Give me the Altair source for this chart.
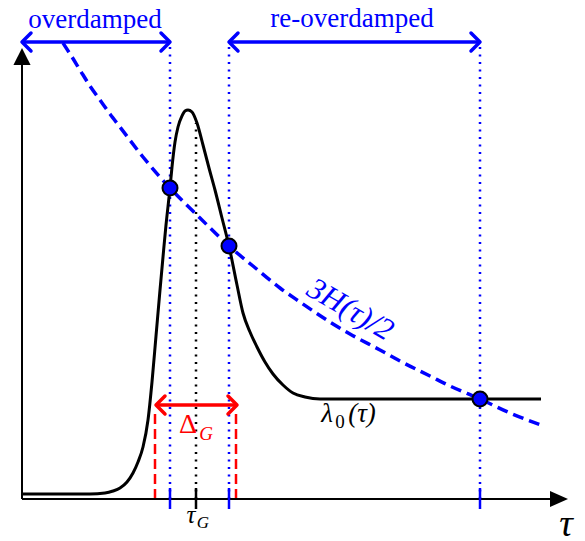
import altair as alt
import pandas as pd

# ---- schematic data (horizontal: tau, vertical: value; arbitrary units) ----
lam_tau = [0, 68, 83, 91, 98, 105, 111, 116, 121, 126, 130, 134, 138, 141, 144, 148,
           150, 153, 156, 160, 163, 166, 170, 175, 181, 187, 193, 200, 207, 215, 221,
           228, 235, 243, 251, 261, 271, 283, 298, 519]
lam_val = [5, 5, 6, 8, 11, 17, 26, 37, 52, 79, 117, 163, 209, 242, 274, 311,
           332, 357, 372, 383, 388, 389, 387, 376, 354, 331, 309, 281, 253, 214, 186,
           167, 152, 137, 125, 114, 106, 102, 100, 100]

h_tau = [41, 50, 58, 68, 78, 88, 98, 121, 148, 178, 207, 231, 258, 278, 308, 328,
         358, 378, 408, 428, 458, 488, 519]
h_val = [456, 442, 429, 413, 399, 385, 372, 342, 311, 281, 253, 233, 211, 197, 177, 165,
         149, 138, 123, 113, 100, 86, 74]

cross_tau = [148, 207, 458]
cross_val = [311, 253, 100]

tauG = 174
tauG_top = 376
delta_lo, delta_hi = 133, 214
delta_arrow_val = 94
delta_line_top = 86

top_arrow_val = 457
over_lo, over_hi = 0, 148
reover_lo, reover_hi = 207, 458

yaxis_top = 434
xaxis_end = 528

BLUE = "#0000ff"
RED = "#ff0000"
BLACK = "#000000"
SERIF = "Liberation Serif"

X = alt.Scale(domain=[-22, 563], nice=False, zero=False)
Y = alt.Scale(domain=[-42, 499], nice=False, zero=False)


def xq(f):
    return alt.X(f, type="quantitative", scale=X, axis=None)


def yq(f):
    return alt.Y(f, type="quantitative", scale=Y, axis=None)


layers = []

# blue dotted verticals
vd = pd.DataFrame({"t": cross_tau, "y0": [0] * 3, "y1": [top_arrow_val] * 3})
layers.append(alt.Chart(vd).mark_rule(color=BLUE, strokeWidth=2.5, strokeDash=[2, 5.5]).encode(
    x=xq("t"), y=yq("y0"), y2="y1"))

# black dotted at tau_G
gd = pd.DataFrame({"t": [tauG], "y0": [0], "y1": [tauG_top]})
layers.append(alt.Chart(gd).mark_rule(color=BLACK, strokeWidth=2.5, strokeDash=[2, 5.5]).encode(
    x=xq("t"), y=yq("y0"), y2="y1"))

# red dashed verticals
rd = pd.DataFrame({"t": [delta_lo, delta_hi], "y0": [0, 0], "y1": [delta_line_top] * 2})
layers.append(alt.Chart(rd).mark_rule(color=RED, strokeWidth=2.5, strokeDash=[10, 5]).encode(
    x=xq("t"), y=yq("y0"), y2="y1"))

# axes
ax = pd.DataFrame({"x0": [0, 0], "x1": [0, xaxis_end], "y0": [0, 0], "y1": [yaxis_top, 0]})
layers.append(alt.Chart(ax).mark_rule(color=BLACK, strokeWidth=2).encode(
    x=xq("x0"), x2="x1", y=yq("y0"), y2="y1"))

# ticks
tk = pd.DataFrame({"t": cross_tau + [tauG], "c": ["b", "b", "b", "k"],
                   "y0": [-10] * 4, "y1": [11] * 4})
layers.append(alt.Chart(tk).mark_rule(strokeWidth=2.5).encode(
    x=xq("t"), y=yq("y0"), y2="y1",
    color=alt.Color("c:N", scale=alt.Scale(domain=["b", "k"], range=[BLUE, BLACK]), legend=None)))

# axis arrowheads
up = pd.DataFrame({"t": [0], "v": [yaxis_top]})
layers.append(alt.Chart(up).mark_point(shape="M-0.95,0L0,-1.9L0.95,0Z", filled=True, color=BLACK,
                                       opacity=1, size=324).encode(x=xq("t"), y=yq("v")))
rt = pd.DataFrame({"t": [xaxis_end], "v": [0]})
layers.append(alt.Chart(rt).mark_point(shape="M0,-0.9L2,0L0,0.9Z", filled=True, color=BLACK,
                                       opacity=1, size=324).encode(x=xq("t"), y=yq("v")))

# 3H/2 dashed curve
hd = pd.DataFrame({"t": h_tau, "v": h_val})
layers.append(alt.Chart(hd).mark_line(color=BLUE, strokeWidth=3.5, strokeDash=[11, 6],
                                      interpolate="monotone").encode(x=xq("t"), y=yq("v")))

# lambda_0 curve
ld = pd.DataFrame({"t": lam_tau, "v": lam_val})
layers.append(alt.Chart(ld).mark_line(color=BLACK, strokeWidth=3,
                                      interpolate="monotone").encode(x=xq("t"), y=yq("v")))

# top arrows (blue)
ta = pd.DataFrame({"x0": [over_lo, reover_lo], "x1": [over_hi, reover_hi],
                   "v": [top_arrow_val] * 2})
layers.append(alt.Chart(ta).mark_rule(color=BLUE, strokeWidth=3.5).encode(
    x=xq("x0"), x2="x1", y=yq("v")))
LEFT_HEAD = "M1,-1L0,0L1,1"
RIGHT_HEAD = "M-1,-1L0,0L-1,1"
lh = pd.DataFrame({"t": [over_lo, reover_lo], "v": [top_arrow_val] * 2})
rh = pd.DataFrame({"t": [over_hi, reover_hi], "v": [top_arrow_val] * 2})
for df, shp in ((lh, LEFT_HEAD), (rh, RIGHT_HEAD)):
    layers.append(alt.Chart(df).mark_point(shape=shp, filled=False, color=BLUE, strokeWidth=3.5,
                                           opacity=1, size=324, strokeCap="round",
                                           strokeJoin="round").encode(x=xq("t"), y=yq("v")))

# red Delta arrow
ra = pd.DataFrame({"x0": [delta_lo + 1], "x1": [delta_hi + 1], "v": [delta_arrow_val]})
layers.append(alt.Chart(ra).mark_rule(color=RED, strokeWidth=3.5).encode(
    x=xq("x0"), x2="x1", y=yq("v")))
for t, shp in ((delta_lo + 1, LEFT_HEAD), (delta_hi + 1, RIGHT_HEAD)):
    df = pd.DataFrame({"t": [t], "v": [delta_arrow_val]})
    layers.append(alt.Chart(df).mark_point(shape=shp, filled=False, color=RED, strokeWidth=3.5,
                                           opacity=1, size=324, strokeCap="round",
                                           strokeJoin="round").encode(x=xq("t"), y=yq("v")))

# crossing dots
cd = pd.DataFrame({"t": cross_tau, "v": cross_val})
layers.append(alt.Chart(cd).mark_point(shape="circle", filled=True, fill=BLUE, stroke=BLACK,
                                       strokeWidth=2, opacity=1, size=225).encode(
    x=xq("t"), y=yq("v")))


def label(txt, t, v, size, color=BLACK, italic=False, angle=0, baseline="alphabetic"):
    df = pd.DataFrame({"t": [t], "v": [v], "s": [txt]})
    kw = dict(font=SERIF, fontSize=size, color=color, align="center", baseline=baseline)
    if angle:
        kw["angle"] = angle
    if italic:
        kw["fontStyle"] = "italic"
    return alt.Chart(df).mark_text(**kw).encode(x=xq("t"), y=yq("v"), text="s:N")


layers += [
    label("overdamped", 73, 471, 27, BLUE),
    label("re-overdamped", 330, 472, 27, BLUE),
    label("λ", 305, 77, 27, BLACK, italic=True),
    label("0", 318, 71, 19, BLACK),
    label("(τ)", 340, 77, 27, BLACK, italic=True),
    label("Δ", 166, 66, 28, RED),
    label("G", 184, 59, 19, RED, italic=True),
    label("τ", 169, -24, 25, BLACK, italic=True),
    label("G", 181, -29, 17, BLACK, italic=True),
    label("τ", 544, -37, 38, BLACK, italic=True),
    label("3H(τ)/2", 328, 189, 31, BLUE, italic=True, angle=30, baseline="middle"),
]

chart = alt.layer(*layers).properties(
    width=585, height=541, padding=0,
    autosize=alt.AutoSizeParams(type="none"),
    background="white",
).configure_view(stroke=None)

chart.save("out.html", embed_options={"renderer": "svg", "actions": False})
